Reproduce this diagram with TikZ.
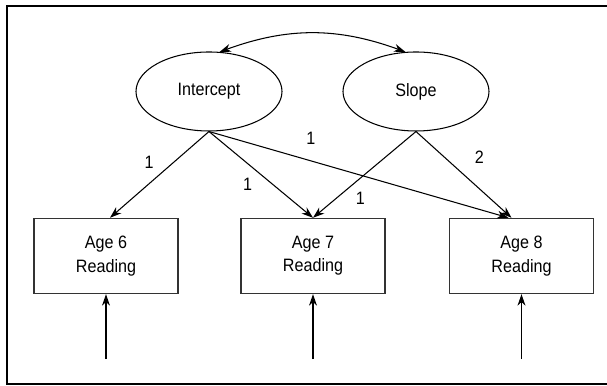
\documentclass[tikz,border=0pt]{standalone}
\usepackage{fontspec}
\setmainfont{Liberation Sans}[FakeStretch=0.9]
\usetikzlibrary{arrows.meta,shapes.geometric}

\begin{document}
\begin{tikzpicture}[
        latent/.style={ellipse, draw, line width=0.6pt, minimum width=2.92cm, minimum height=1.58cm, inner sep=0pt, font=\fontsize{10.2}{13.3}\selectfont},
        observed/.style={rectangle, draw=black!80, line width=0.8pt, minimum width=2.88cm, minimum height=1.5cm, align=center, font=\fontsize{10.2}{13.3}\selectfont},
        path_arrow/.style={-{Stealth[length=6.5pt,width=4.5pt,inset=2pt]}, line width=0.6pt},
        edge_label/.style={font=\fontsize{10.2}{12}\selectfont, inner sep=3pt}
    ]
        \useasboundingbox (0,0) rectangle (12.14,7.72);

        % Frame, open on the right
        \draw[line width=1.1pt] (12.14,7.60) -- (0.14,7.60) -- (0.14,0.04) -- (12.14,0.04);

        % Growth factors
        \node[latent] (factor_int) at (4.18,5.89) {Intercept};
        \node[latent] (factor_slope) at (8.32,5.89) {Slope};
        \draw[{Stealth[length=6.5pt,width=4.5pt,inset=2pt]}-{Stealth[length=6.5pt,width=4.5pt,inset=2pt]}, line width=0.6pt]
            (factor_int.75) to[bend left=20] (factor_slope.105);

        % Repeated measures
        \node[observed] (obs_age6) at (2.12,2.60) {Age 6\\Reading};
        \node[observed] (obs_age7) at (6.26,2.60) {Age 7\\Reading};
        \node[observed] (obs_age8) at (10.43,2.60) {Age 8\\Reading};

        % Loadings
        \draw[path_arrow] (factor_int.south) -- ([xshift=0.08cm]obs_age6.north) node[edge_label, pos=0.5, above left] {1};
        \draw[path_arrow] (factor_int.south) -- (obs_age7.north) node[edge_label, pos=0.47, below left] {1};
        \draw[path_arrow] (factor_int.south) -- ([xshift=-0.26cm]obs_age8.north) node[edge_label, pos=0.34, above=6pt] {1};
        \draw[path_arrow] (factor_slope.south) -- (obs_age7.north) node[edge_label, pos=0.64, below right] {1};
        \draw[path_arrow] (factor_slope.south) -- ([xshift=-0.2cm]obs_age8.north) node[edge_label, pos=0.5, above right=3pt] {2};

        % Residual arrows
        \foreach \age in {6,7,8} {
            \coordinate (err_age\age) at ([yshift=-1.3cm]obs_age\age.south);
            \draw[path_arrow] (err_age\age) -- (obs_age\age.south);
        }
    \end{tikzpicture}
\end{document}
